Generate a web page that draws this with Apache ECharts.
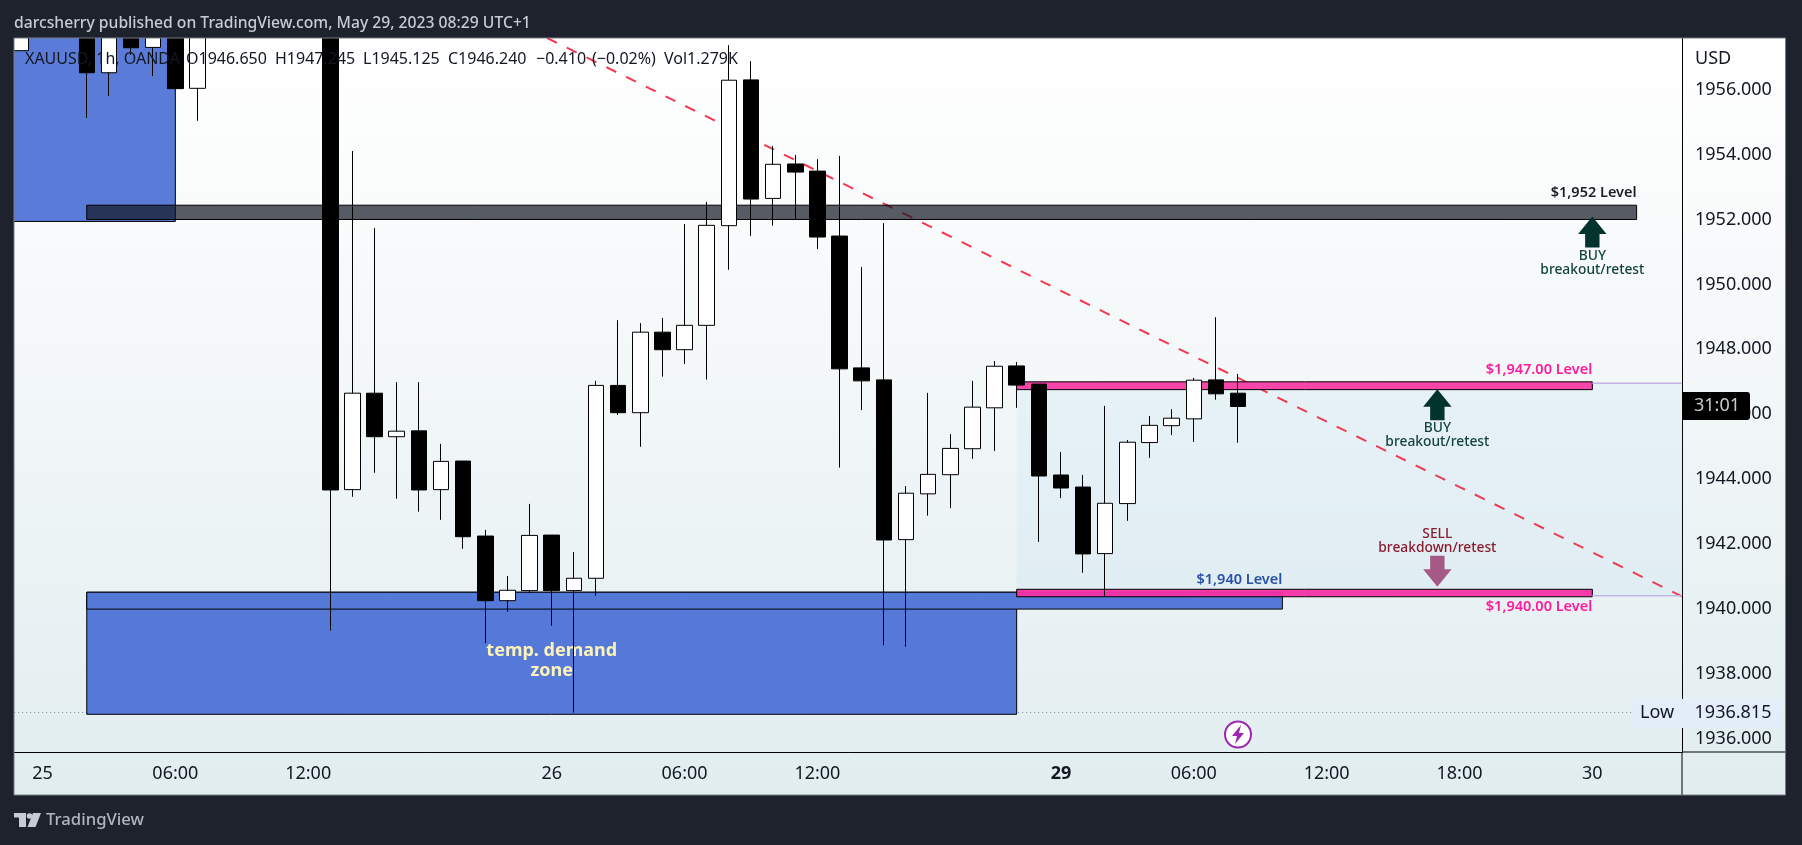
<!DOCTYPE html>
<html>
<head>
<meta charset="utf-8">
<title>XAUUSD 1h</title>
<style>
  html, body { margin: 0; padding: 0; background: #1e222d; }
  #chart { width: 1802px; height: 845px; }
</style>
<script src="https://cdn.jsdelivr.net/npm/echarts@6/dist/echarts.min.js"></script>
</head>
<body>
<div id="chart"></div>
<script>
// hourly bars, index 0 is the "25" tick; bars above the visible range are left out
const barIndex = [-1, 2, 3, 4, 5, 6, 7, 13, 14, 15, 16, 17, 18, 19, 20, 21, 22, 23, 24, 25, 26, 27, 28, 29, 30, 31, 32, 33, 34, 35, 36, 37, 38, 39, 40, 41, 42, 43, 44, 45, 46, 47, 48, 49, 50, 51, 52, 53, 54];
const opens = [1957.2, 1958.2, 1956.52, 1958.2, 1957.3, 1958.3, 1956.04, 1958.6, 1943.68, 1946.65, 1945.31, 1945.49, 1943.68, 1944.56, 1942.25, 1940.26, 1940.57, 1942.28, 1940.57, 1940.95, 1946.89, 1946.05, 1948.53, 1947.99, 1948.74, 1951.81, 1956.3, 1952.65, 1953.71, 1953.49, 1951.49, 1947.43, 1947.06, 1942.14, 1943.55, 1944.14, 1944.94, 1946.2, 1947.49, 1946.93, 1944.13, 1943.76, 1941.71, 1943.25, 1945.13, 1945.65, 1945.86, 1947.06, 1946.65];
const closes = [1958, 1956.52, 1958.1, 1957.29, 1958.2, 1956.03, 1958.2, 1943.67, 1946.65, 1945.31, 1945.48, 1943.67, 1944.55, 1942.23, 1940.26, 1940.58, 1942.27, 1940.57, 1940.95, 1946.89, 1946.05, 1948.53, 1947.99, 1948.74, 1951.82, 1956.29, 1952.63, 1953.7, 1953.46, 1951.46, 1947.4, 1947.03, 1942.13, 1943.57, 1944.15, 1944.95, 1946.22, 1947.48, 1946.9, 1944.1, 1943.73, 1941.7, 1943.26, 1945.14, 1945.66, 1945.88, 1947.05, 1946.63, 1946.24];
const lows = [1957.2, 1955.13, 1955.8, 1957.07, 1956.42, 1956.03, 1955.04, 1939.34, 1943.46, 1944.2, 1943.4, 1943, 1942.75, 1941.86, 1938.95, 1939.92, 1940.5, 1939.49, 1936.815, 1940.41, 1945.98, 1945, 1947.16, 1947.55, 1947.07, 1950.45, 1951.49, 1951.81, 1952.01, 1951.09, 1944.36, 1946.13, 1938.89, 1938.84, 1942.88, 1943.11, 1944.63, 1944.87, 1946.2, 1942.07, 1943.42, 1941.12, 1940.41, 1942.72, 1944.66, 1945.36, 1945.15, 1946.45, 1945.125];
const highs = [1958.3, 1958.6, 1958.4, 1958.5, 1958.4, 1958.5, 1958.5, 1959, 1954.11, 1951.74, 1946.99, 1946.99, 1945.09, 1944.56, 1942.44, 1941.02, 1943.24, 1942.28, 1941.76, 1947.03, 1948.9, 1948.81, 1948.97, 1951.86, 1952.54, 1957.37, 1956.88, 1954.26, 1953.99, 1953.86, 1953.96, 1950.54, 1951.89, 1943.79, 1946.66, 1945.39, 1947.03, 1947.64, 1947.61, 1946.93, 1944.84, 1944.13, 1946.26, 1945.21, 1945.95, 1946.16, 1947.12, 1948.99, 1947.245];

const xTickIndex = [0, 6, 12, 23, 29, 35, 46, 52, 58, 64, 70];
const xTickLabels = ['25', '06:00', '12:00', '26', '06:00', '12:00', '29', '06:00', '12:00', '18:00', '30'];
const yTicks = [1936, 1938, 1940, 1942, 1944, 1946, 1948, 1950, 1952, 1954, 1956];

// drawn zones, same order in every list
const zoneNames = ['range', 'supplyTop', 'level1952', 'demand', 'level1940', 'pink1947', 'pink1940'];
const zoneStart = [44, -3, 2, 2, 2, 44, 44];
const zoneEnd = [75, 6, 72, 44, 56, 70, 70];
const zoneLow = [1940.41, 1951.94, 1952, 1936.76, 1940, 1946.76, 1940.38];
const zoneHigh = [1946.96, 1960, 1952.44, 1940.52, 1940.52, 1947, 1940.61];

const rangeEdges = [1946.96, 1940.41];
const rangeEdgeStart = 70;
const rangeEdgeEnd = 75;

const trendX = [22.79, 74.05];
const trendY = [1957.59, 1940.39];
const lowValue = 1936.815;

const arrowIndex = [70, 63, 63];
const arrowTip = [1952.09, 1946.77, 1940.69];
const arrowDir = [1, 1, -1];

const labelIndex = [72, 70, 70, 70, 63, 63, 63, 63, 70, 56];
const labelValue = [1952.81, 1950.88, 1950.44, 1947.36, 1945.58, 1945.14, 1942.31, 1941.87, 1940.07, 1940.9];
const labelText = ['$1,952 Level', 'BUY', 'breakout/retest', '$1,947.00 Level', 'BUY', 'breakout/retest', 'SELL', 'breakdown/retest', '$1,940.00 Level', '$1,940 Level'];
const labelKind = ['black', 'buy', 'buy', 'pink', 'buy', 'buy', 'sell', 'sell', 'pink', 'blue'];

const zoneLabelIndex = [23, 23];
const zoneLabelValue = [1938.72, 1938.09];
const zoneLabelText = ['temp. demand', 'zone'];

const legendParts = ['XAUUSD, 1h, OANDA', 'O1946.650', 'H1947.245', 'L1945.125', 'C1946.240', '\u22120.410', '(\u22120.02%)', 'Vol1.279K'];
const legendLeft = [25, 186, 275, 363, 448, 536, 592, 664];

const FONT = '"Noto Sans", sans-serif';
const PAGE_BG = '#1e222d';
const zoneStyle = {
  range: { fill: 'rgba(33,150,243,0.05)', stroke: null },
  supplyTop: { fill: '#5a7cd8', stroke: '#000' },
  level1952: { fill: 'rgba(19,23,34,0.7)', stroke: '#000' },
  demand: { fill: '#5579d8', stroke: '#000' },
  level1940: { fill: '#5579d8', stroke: '#000' },
  pink1947: { fill: '#f746a9', stroke: '#000' },
  pink1940: { fill: 'rgba(247,50,165,0.95)', stroke: '#000' }
};
const labelStyle = {
  black: { color: '#1c2024', align: 'right', font: '600 14.5px ' },
  buy: { color: '#14433e', align: 'center', font: '500 13.8px ' },
  sell: { color: '#8a1c2e', align: 'center', font: '500 13.8px ' },
  pink: { color: '#ff1a9e', align: 'right', font: '600 14.5px ' },
  blue: { color: '#2950a8', align: 'right', font: '600 14.5px ' }
};

const chart = echarts.init(document.getElementById('chart'), null, { renderer: 'canvas' });

const candleData = barIndex.map((k, i) => [k, opens[i], closes[i], lows[i], highs[i]]);
const zoneData = zoneNames.map((n, i) => [zoneStart[i], zoneEnd[i], zoneLow[i], zoneHigh[i], i]);
const edgeData = rangeEdges.map(v => [rangeEdgeStart, rangeEdgeEnd, v]);
const arrowData = arrowIndex.map((k, i) => [k, arrowTip[i], arrowDir[i]]);
const labelData = labelIndex.map((k, i) => [k, labelValue[i], i]);
const zoneLabelData = zoneLabelIndex.map((k, i) => [k, zoneLabelValue[i], i]);

function renderZone(params, api) {
  const a = api.coord([api.value(0), api.value(3)]);
  const b = api.coord([api.value(1), api.value(2)]);
  const st = zoneStyle[zoneNames[api.value(4)]];
  return {
    type: 'rect',
    shape: echarts.graphic.clipRectByRect({ x: a[0], y: a[1], width: b[0] - a[0], height: b[1] - a[1] }, { x: params.coordSys.x - 2, y: params.coordSys.y - 2, width: params.coordSys.width + 4, height: params.coordSys.height + 4 }),
    style: { fill: st.fill, stroke: st.stroke, lineWidth: 1 }
  };
}

function renderEdge(params, api) {
  const a = api.coord([api.value(0), api.value(2)]);
  const b = api.coord([api.value(1), api.value(2)]);
  const right = params.coordSys.x + params.coordSys.width;
  return {
    type: 'line',
    shape: { x1: a[0], y1: a[1], x2: Math.min(b[0], right), y2: b[1] },
    style: { stroke: '#c3b5e5', lineWidth: 1.5 }
  };
}

function renderArrow(params, api) {
  const p = api.coord([api.value(0), api.value(1)]);
  const d = api.value(2);
  const pts = [[0, 0], [14.2, 17.5], [7.2, 17.5], [7.2, 31], [-7.2, 31], [-7.2, 17.5], [-14.2, 17.5]];
  return {
    type: 'polygon',
    shape: { points: pts.map(q => [p[0] + q[0], p[1] + d * q[1]]) },
    style: { fill: d > 0 ? '#03332d' : '#a55a86' }
  };
}

function renderLabel(params, api) {
  const p = api.coord([api.value(0), api.value(1)]);
  const i = api.value(2);
  const st = labelStyle[labelKind[i]];
  return {
    type: 'text',
    style: {
      x: p[0], y: p[1], text: labelText[i], fill: st.color, align: st.align, verticalAlign: 'middle',
      font: st.font + FONT
    }
  };
}

function renderZoneLabel(params, api) {
  const p = api.coord([api.value(0), api.value(1)]);
  return {
    type: 'text',
    style: {
      x: p[0], y: p[1], text: zoneLabelText[api.value(2)], fill: '#fdf3b8', align: 'center', verticalAlign: 'middle',
      font: '700 18px ' + FONT
    }
  };
}

// the legend sits over the candles, black on black just disappears
const legendText = legendParts.map((t, i) => ({
  type: 'text', z: 7, silent: true,
  style: { x: legendLeft[i], y: 59, text: t, fill: '#131722', font: '16px ' + FONT, verticalAlign: 'middle' }
}));

const option = {
  animation: false,
  backgroundColor: PAGE_BG,
  grid: { left: 14.2, right: 120, top: 38, bottom: 92.7, containLabel: false },
  xAxis: {
    type: 'value',
    min: -1.278,
    max: 74.05,
    axisLine: { show: true, lineStyle: { color: '#000', width: 1 } },
    axisTick: { show: false },
    splitLine: { show: false },
    axisLabel: {
      customValues: xTickIndex,
      margin: 13,
      color: '#131722',
      fontFamily: FONT,
      fontSize: 18,
      formatter: v => {
        const t = xTickLabels[xTickIndex.indexOf(v)];
        return t === '29' ? '{b|' + t + '}' : t;
      },
      rich: { b: { fontWeight: 'bold', fontSize: 18, fontFamily: FONT, color: '#131722' } }
    }
  },
  yAxis: {
    type: 'value',
    position: 'right',
    min: 1935.59,
    max: 1957.59,
    axisLine: { show: true, onZero: false, lineStyle: { color: '#000', width: 1 } },
    axisTick: { show: false },
    splitLine: { show: false },
    axisLabel: {
      customValues: yTicks,
      margin: 13,
      color: '#131722',
      fontFamily: FONT,
      fontSize: 18,
      formatter: v => v.toFixed(3)
    }
  },
  series: [
    {
      name: 'trend', type: 'line', z: 2, silent: true, symbol: 'none',
      data: trendX.map((x, i) => [x, trendY[i]]),
      lineStyle: { color: '#f7374f', width: 2, type: [11, 11] }
    },
    {
      name: 'low', type: 'line', z: 2, silent: true, symbol: 'none',
      data: [[-1.278, lowValue], [74.05, lowValue]],
      lineStyle: { color: '#7d8b8d', width: 1, type: [1, 3] }
    },
    { name: 'zones', type: 'custom', z: 3, silent: true, clip: true, renderItem: renderZone, data: zoneData },
    { name: 'edges', type: 'custom', z: 3, silent: true, renderItem: renderEdge, data: edgeData },
    { name: 'zoneLabels', type: 'custom', z: 4, silent: true, renderItem: renderZoneLabel, data: zoneLabelData },
    {
      name: 'XAUUSD',
      type: 'candlestick',
      z: 5,
      silent: true,
      barWidth: 16,
      encode: { x: 0, y: [1, 2, 3, 4] },
      data: candleData,
      itemStyle: { color: '#fff', color0: '#000', borderColor: '#000', borderColor0: '#000', borderWidth: 1 }
    },
    { name: 'arrows', type: 'custom', z: 6, silent: true, renderItem: renderArrow, data: arrowData },
    { name: 'labels', type: 'custom', z: 6, silent: true, renderItem: renderLabel, data: labelData }
  ],
  graphic: { elements: [
    {
      type: 'rect', z: -1, silent: true,
      shape: { x: 14, y: 38, width: 1771.5, height: 757 },
      style: {
        fill: new echarts.graphic.LinearGradient(0, 0, 0, 1, [
          { offset: 0, color: '#ffffff' },
          { offset: 0.35, color: '#f6f9fa' },
          { offset: 1, color: '#e1edef' }
        ])
      }
    },
    { type: 'line', z: 1, silent: true, shape: { x1: 1682, y1: 752, x2: 1785, y2: 752 }, style: { stroke: '#000', lineWidth: 1 } },
    { type: 'line', z: 1, silent: true, shape: { x1: 1682, y1: 752, x2: 1682, y2: 795 }, style: { stroke: '#000', lineWidth: 1 } },
    // candlestick series does not clip its bars, the page frame covers what sticks out
    { type: 'rect', z: 20, silent: true, shape: { x: 0, y: 0, width: 1802, height: 38 }, style: { fill: PAGE_BG } },
    { type: 'rect', z: 20, silent: true, shape: { x: 0, y: 0, width: 14, height: 845 }, style: { fill: PAGE_BG } },
    { type: 'rect', z: 21, silent: true, shape: { x: 14, y: 38, width: 1771.5, height: 757 }, style: { fill: 'none', stroke: '#787b86', lineWidth: 1 } },
    { type: 'text', z: 22, silent: true, style: { x: 14, y: 24, text: 'darcsherry published on TradingView.com, May 29, 2023 08:29 UTC+1', fill: '#c8cbd3', font: '500 15.7px ' + FONT, verticalAlign: 'middle' } },
    { type: 'text', silent: true, style: { x: 1695, y: 59, text: 'USD', fill: '#131722', font: '18px ' + FONT, verticalAlign: 'middle' } },
    ...legendText,
    // last price countdown
    { type: 'rect', z: 10, silent: true, shape: { x: 1682, y: 392, width: 68, height: 28, r: [0, 3, 3, 0] }, style: { fill: '#000' } },
    { type: 'text', z: 11, silent: true, style: { x: 1717, y: 406, text: '31:01', fill: '#c9c9c9', font: '18px ' + FONT, align: 'center', verticalAlign: 'middle' } },
    // low label
    { type: 'rect', z: 10, silent: true, shape: { x: 1632, y: 699, width: 150, height: 29, r: 2 }, style: { fill: '#e3eefa' } },
    { type: 'text', z: 11, silent: true, style: { x: 1657, y: 713, text: 'Low', fill: '#131722', font: '18px ' + FONT, align: 'center', verticalAlign: 'middle' } },
    { type: 'text', z: 11, silent: true, style: { x: 1733, y: 713, text: lowValue.toFixed(3), fill: '#131722', font: '18px ' + FONT, align: 'center', verticalAlign: 'middle' } },
    // event marker
    { type: 'circle', z: 7, silent: true, shape: { cx: 1238, cy: 734.5, r: 13 }, style: { fill: '#fff', stroke: '#9c27b0', lineWidth: 2 } },
    { type: 'polygon', z: 8, silent: true, shape: { points: [[1241, 725], [1232, 736], [1237, 736], [1235, 744], [1244, 733], [1239, 733]] }, style: { fill: '#9c27b0' } },
    // logo
    { type: 'rect', z: 22, silent: true, shape: { x: 14, y: 813, width: 12, height: 4.5 }, style: { fill: '#c8cbd3' } },
    { type: 'rect', z: 22, silent: true, shape: { x: 19, y: 813, width: 7, height: 14 }, style: { fill: '#c8cbd3' } },
    { type: 'circle', z: 22, silent: true, shape: { cx: 29.5, cy: 816, r: 2.8 }, style: { fill: '#c8cbd3' } },
    { type: 'polygon', z: 22, silent: true, shape: { points: [[33, 813], [41, 813], [35.5, 827], [27.5, 827]] }, style: { fill: '#c8cbd3' } },
    { type: 'text', z: 22, silent: true, style: { x: 46, y: 820, text: 'TradingView', fill: '#b2b5be', font: '500 16.7px ' + FONT, verticalAlign: 'middle' } }
  ] }
};

chart.setOption(option);
</script>
</body>
</html>
